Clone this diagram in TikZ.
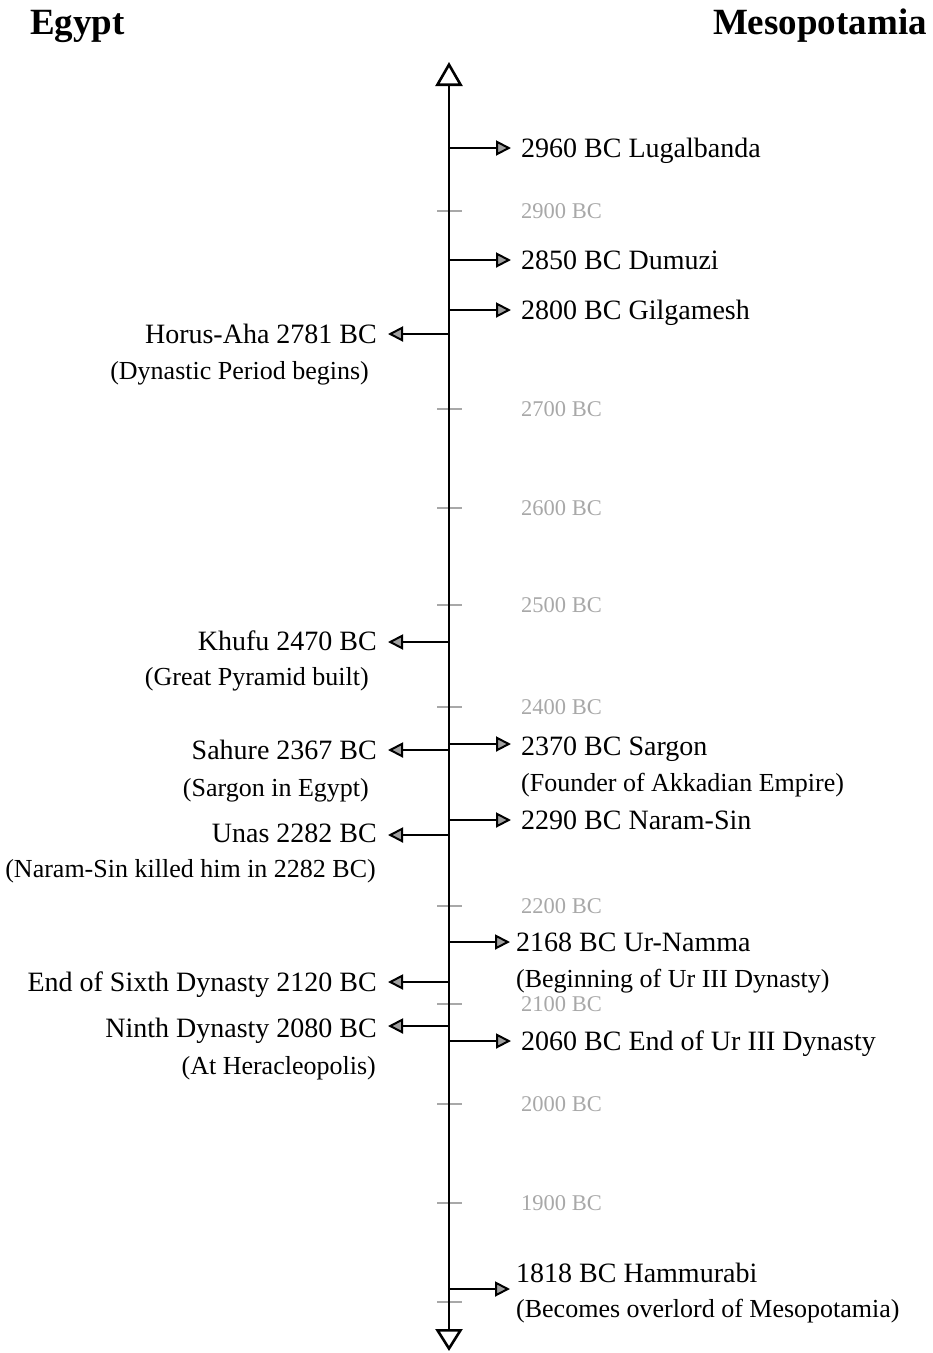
\documentclass[tikz,border=0pt]{standalone}
\usepackage{fontspec}
\setmainfont{Liberation Serif}
\usetikzlibrary{arrows.meta}
\definecolor{tickgray}{HTML}{A8A8A8}
\definecolor{tipgray}{HTML}{A0A0A0}
\begin{document}
\begin{tikzpicture}[x=1pt,y=-1pt,
  prim/.style={font=\fontsize{28}{32}\selectfont, inner sep=0pt},
  sub/.style={font=\fontsize{26}{30}\selectfont, inner sep=0pt},
  ticklbl/.style={font=\fontsize{22.5}{26}\selectfont, text=tickgray, inner sep=0pt, anchor=west},
  head/.style={font=\fontsize{37}{40}\selectfont\bfseries, inner sep=0pt},
  ticker/.style={draw=tickgray, line width=2.2pt},
  axisline/.style={line width=2.8pt, {Triangle[open,fill=white,length=24pt,width=27pt,line width=2.6pt]}-{Triangle[open,fill=white,length=22pt,width=27pt,line width=2.6pt]}},
  evarrow/.style={line width=2.2pt, -{Triangle[length=15pt,width=15pt,fill=tipgray,line width=2pt]}}
]
\useasboundingbox (0,0) rectangle (933,1353);

% headings
\node[head, anchor=base west] (egypt) at (30,34) {Egypt};
\node[head, anchor=base east] (meso) at (927,34) {Mesopotamia};

% ticks
\foreach \y/\lab in {211/2900,409/2700,508/2600,605/2500,707/2400,906/2200,1004/2100,1104/2000,1203/1900} {
  \draw[ticker] (437,\y) -- (462,\y);
  \node[ticklbl] (t\lab) at (521,\y) {\lab\ BC};
}
\draw[ticker] (437,1302) -- (462,1302);

% axis
\coordinate (top) at (449,62);
\coordinate (bot) at (449,1351);
\draw[axisline] (top) -- (bot);

% right side (Mesopotamia)
\coordinate (ar1) at (449,148);
\node[prim, anchor=base west] (r1) at (521,157) {2960 BC Lugalbanda};
\draw[evarrow, shorten >=10pt] (ar1) -- (ar1 -| r1.west);

\coordinate (ar2) at (449,260);
\node[prim, anchor=base west] (r2) at (521,269) {2850 BC Dumuzi};
\draw[evarrow, shorten >=10pt] (ar2) -- (ar2 -| r2.west);

\coordinate (ar3) at (449,310);
\node[prim, anchor=base west] (r3) at (521,319) {2800 BC Gilgamesh};
\draw[evarrow, shorten >=10pt] (ar3) -- (ar3 -| r3.west);

\coordinate (ar4) at (449,744);
\node[prim, anchor=base west] (r4) at (521,755) {2370 BC Sargon};
\node[sub, anchor=base west] (r4s) at (521,791) {(Founder of Akkadian Empire)};
\draw[evarrow, shorten >=10pt] (ar4) -- (ar4 -| r4.west);

\coordinate (ar5) at (449,820);
\node[prim, anchor=base west] (r5) at (521,829) {2290 BC Naram-Sin};
\draw[evarrow, shorten >=10pt] (ar5) -- (ar5 -| r5.west);

\coordinate (ar6) at (449,942);
\node[prim, anchor=base west] (r6) at (516,951) {2168 BC Ur-Namma};
\node[sub, anchor=base west] (r6s) at (516,987) {(Beginning of Ur III Dynasty)};
\draw[evarrow, shorten >=6pt] (ar6) -- (ar6 -| r6.west);

\coordinate (ar7) at (449,1041);
\node[prim, anchor=base west] (r7) at (521,1050) {2060 BC End of Ur III Dynasty};
\draw[evarrow, shorten >=10pt] (ar7) -- (ar7 -| r7.west);

\coordinate (ar8) at (449,1289);
\node[prim, anchor=base west] (r8) at (516,1282) {1818 BC Hammurabi};
\node[sub, anchor=base west] (r8s) at (516,1317) {(Becomes overlord of Mesopotamia)};
\draw[evarrow, shorten >=6pt] (ar8) -- (ar8 -| r8.west);

% left side (Egypt)
\coordinate (al1) at (449,334);
\node[prim, anchor=base east] (l1) at (377,343) {Horus-Aha 2781 BC};
\node[sub, anchor=base east] (l1s) at (369,379) {(Dynastic Period begins)};
\draw[evarrow, shorten >=11pt] (al1) -- (al1 -| l1.east);

\coordinate (al2) at (449,642);
\node[prim, anchor=base east] (l2) at (377,650) {Khufu 2470 BC};
\node[sub, anchor=base east] (l2s) at (369,685) {(Great Pyramid built)};
\draw[evarrow, shorten >=11pt] (al2) -- (al2 -| l2.east);

\coordinate (al3) at (449,750);
\node[prim, anchor=base east] (l3) at (377,759) {Sahure 2367 BC};
\node[sub, anchor=base east] (l3s) at (369,796) {(Sargon in Egypt)};
\draw[evarrow, shorten >=11pt] (al3) -- (al3 -| l3.east);

\coordinate (al4) at (449,835);
\node[prim, anchor=base east] (l4) at (377,842) {Unas 2282 BC};
\node[sub, anchor=base east] (l4s) at (376,877) {(Naram-Sin killed him in 2282 BC)};
\draw[evarrow, shorten >=11pt] (al4) -- (al4 -| l4.east);

\coordinate (al5) at (449,982);
\node[prim, anchor=base east] (l5) at (377,991) {End of Sixth Dynasty 2120 BC};
\draw[evarrow, shorten >=11pt] (al5) -- (al5 -| l5.east);

\coordinate (al6) at (449,1026);
\node[prim, anchor=base east] (l6) at (377,1037) {Ninth Dynasty 2080 BC};
\node[sub, anchor=base east] (l6s) at (376,1074) {(At Heracleopolis)};
\draw[evarrow, shorten >=11pt] (al6) -- (al6 -| l6.east);
\end{tikzpicture}
\end{document}
